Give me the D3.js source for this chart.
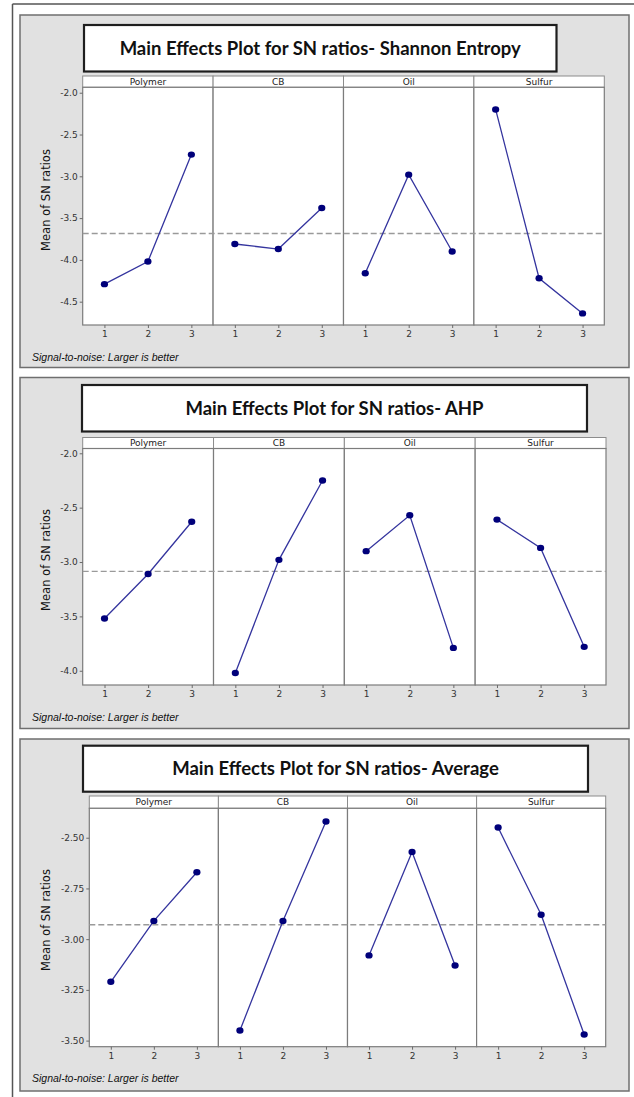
<!DOCTYPE html>
<html>
<head>
<meta charset="utf-8">
<script src="https://cdn.jsdelivr.net/npm/d3@7"></script>
<style>
    html, body { margin: 0; padding: 0; background: #ffffff; }
    #vis-container { width: 634px; height: 1097px; }
</style>
</head>
<body>
<div id="vis-container"></div>
<script>
// Factor names and levels shared by the three plots
const factors = ["Polymer", "CB", "Oil", "Sulfur"];
const levels = ["1", "2", "3"];
const footNote = "Signal-to-noise: Larger is better";
const yTitle = "Mean of SN ratios";

// Plot titles
const shannonTitle = "Main Effects Plot for SN ratios- Shannon Entropy";
const ahpTitle = "Main Effects Plot for SN ratios- AHP";
const averageTitle = "Main Effects Plot for SN ratios- Average";

// Mean SN ratios, one row per factor (levels 1, 2, 3)
const shannonMeans = [
    [-4.29, -4.02, -2.74],
    [-3.81, -3.87, -3.38],
    [-4.16, -2.98, -3.90],
    [-2.20, -4.22, -4.64]
];
const ahpMeans = [
    [-3.52, -3.11, -2.63],
    [-4.02, -2.98, -2.25],
    [-2.90, -2.57, -3.79],
    [-2.61, -2.87, -3.78]
];
const averageMeans = [
    [-3.21, -2.91, -2.67],
    [-3.45, -2.91, -2.42],
    [-3.08, -2.57, -3.13],
    [-2.45, -2.88, -3.47]
];

// Y tick labels
const shannonTicks = [-2.0, -2.5, -3.0, -3.5, -4.0, -4.5];
const ahpTicks = [-2.0, -2.5, -3.0, -3.5, -4.0];
const averageTicks = [-2.50, -2.75, -3.00, -3.25, -3.50];

function main()
{
    const svg = d3.select("#vis-container")
        .append("svg")
        .attr("width", 634)
        .attr("height", 1097);

    // Page edge lines
    svg.append("line")
        .attr("x1", 12.5).attr("x2", 634).attr("y1", 4).attr("y2", 4)
        .attr("stroke", "#555").attr("stroke-width", 1.5);
    svg.append("line")
        .attr("x1", 12.5).attr("x2", 12.5).attr("y1", 4).attr("y2", 1097)
        .attr("stroke", "#555").attr("stroke-width", 1.5);

    // Layout for each of the three plots
    const charts = [
        {
            title: shannonTitle, values: shannonMeans, ticks: shannonTicks, digits: 1,
            frame: { x: 20, y: 15, w: 609, h: 352.5 },
            titleBox: { x: 84, y: 25, w: 472.5, h: 46.5 },
            plot: { left: 82.7, right: 604.3, stripTop: 76, top: 87.3, bottom: 325 },
            domain: [-4.779, -1.935], labelY: 200, noteY: 361
        },
        {
            title: ahpTitle, values: ahpMeans, ticks: ahpTicks, digits: 1,
            frame: { x: 20, y: 377.5, w: 609, h: 351 },
            titleBox: { x: 82, y: 385, w: 505, h: 46.5 },
            plot: { left: 82.7, right: 606, stripTop: 437.5, top: 448.5, bottom: 685 },
            domain: [-4.131, -1.956], labelY: 560, noteY: 721
        },
        {
            title: averageTitle, values: averageMeans, ticks: averageTicks, digits: 2,
            frame: { x: 20, y: 739, w: 609, h: 352 },
            titleBox: { x: 83, y: 745.7, w: 505, h: 46 },
            plot: { left: 89.3, right: 605.7, stripTop: 796, top: 808.3, bottom: 1046.7 },
            domain: [-3.53, -2.355], labelY: 920, noteY: 1082
        }
    ];

    charts.forEach(chart => drawChart(svg, chart));
}

function drawChart(svg, chart)
{
    const g = svg.append("g");
    const p = chart.plot;

    // Gray background frame
    g.append("rect")
        .attr("x", chart.frame.x).attr("y", chart.frame.y)
        .attr("width", chart.frame.w).attr("height", chart.frame.h)
        .attr("fill", "#e1e1e1")
        .attr("stroke", "#6f6f6f")
        .attr("stroke-width", 1.5);

    // Title box
    g.append("rect")
        .attr("x", chart.titleBox.x).attr("y", chart.titleBox.y)
        .attr("width", chart.titleBox.w).attr("height", chart.titleBox.h)
        .attr("fill", "#ffffff")
        .attr("stroke", "#1e1e1e")
        .attr("stroke-width", 2.2);

    g.append("text")
        .attr("x", chart.titleBox.x + chart.titleBox.w / 2)
        .attr("y", chart.titleBox.y + chart.titleBox.h / 2 + 6.5)
        .attr("text-anchor", "middle")
        .style("font-family", "Lato, 'Open Sans', sans-serif")
        .style("font-weight", "bold")
        .style("font-size", "18.5px")
        .style("fill", "#111")
        .text(chart.title);

    // Scales
    const xFactor = d3.scaleBand()
        .domain(factors)
        .range([p.left, p.right])
        .paddingInner(0)
        .paddingOuter(0);

    const xLevel = d3.scalePoint()
        .domain(levels)
        .range([0, xFactor.bandwidth()])
        .padding(0.5);

    const y = d3.scaleLinear()
        .domain(chart.domain)
        .range([p.bottom, p.top]);

    // Panels: strip header and plot area
    factors.forEach(f => {
        const x0 = xFactor(f);
        const w = xFactor.bandwidth();

        g.append("rect")
            .attr("x", x0).attr("y", p.stripTop)
            .attr("width", w).attr("height", p.top - p.stripTop)
            .attr("fill", "#ffffff")
            .attr("stroke", "#8c8c8c")
            .attr("stroke-width", 1);

        g.append("text")
            .attr("x", x0 + w / 2)
            .attr("y", p.stripTop + (p.top - p.stripTop) / 2 + 3.3)
            .attr("text-anchor", "middle")
            .style("font-family", "'DejaVu Sans', sans-serif")
            .style("font-size", "9px")
            .style("fill", "#222")
            .text(f);

        g.append("rect")
            .attr("x", x0).attr("y", p.top)
            .attr("width", w).attr("height", p.bottom - p.top)
            .attr("fill", "#ffffff")
            .attr("stroke", "#7c7c7c")
            .attr("stroke-width", 1.2);
    });

    // Grand mean dashed line
    const grandMean = d3.mean(chart.values.flat());
    g.append("line")
        .attr("x1", p.left).attr("x2", p.right)
        .attr("y1", y(grandMean)).attr("y2", y(grandMean))
        .attr("stroke", "#9a9a9a")
        .attr("stroke-width", 1.4)
        .attr("stroke-dasharray", "6,3");

    // Y axis
    const yAxis = d3.axisLeft(y)
        .tickValues(chart.ticks)
        .tickSize(3)
        .tickPadding(2)
        .tickFormat(d => d.toFixed(chart.digits));

    const yG = g.append("g")
        .attr("transform", `translate(${p.left}, 0)`)
        .call(yAxis);
    styleAxis(yG);

    g.append("text")
        .attr("transform", `translate(50, ${chart.labelY}) rotate(-90)`)
        .attr("text-anchor", "middle")
        .style("font-family", "'DejaVu Sans', sans-serif")
        .style("font-size", "11.5px")
        .style("fill", "#111")
        .text(yTitle);

    // X axis per panel, lines and points
    factors.forEach((f, i) => {
        const x0 = xFactor(f);

        const xG = g.append("g")
            .attr("transform", `translate(${x0}, ${p.bottom})`)
            .call(d3.axisBottom(xLevel).tickSize(3).tickPadding(3));
        styleAxis(xG);

        const pts = levels.map((lv, j) => ({ x: x0 + xLevel(lv), y: y(chart.values[i][j]) }));

        g.append("path")
            .datum(pts)
            .attr("fill", "none")
            .attr("stroke", "#34349e")
            .attr("stroke-width", 1.3)
            .attr("d", d3.line().x(d => d.x).y(d => d.y));

        g.selectAll(null)
            .data(pts)
            .enter()
            .append("ellipse")
            .attr("cx", d => d.x)
            .attr("cy", d => d.y)
            .attr("rx", 3.6)
            .attr("ry", 3.2)
            .attr("fill", "#00007a");
    });

    // Foot note
    g.append("text")
        .attr("x", 32)
        .attr("y", chart.noteY)
        .style("font-family", "'Liberation Sans', sans-serif")
        .style("font-style", "italic")
        .style("font-size", "10.5px")
        .style("fill", "#111")
        .text(footNote);
}

function styleAxis(axisG)
{
    axisG.select(".domain").remove();
    axisG.selectAll(".tick line").attr("stroke", "#6a6a6a");
    axisG.selectAll(".tick text")
        .style("font-family", "'DejaVu Sans', sans-serif")
        .style("font-size", "9px")
        .style("fill", "#333");
}

document.addEventListener("DOMContentLoaded", main);
</script>
</body>
</html>
